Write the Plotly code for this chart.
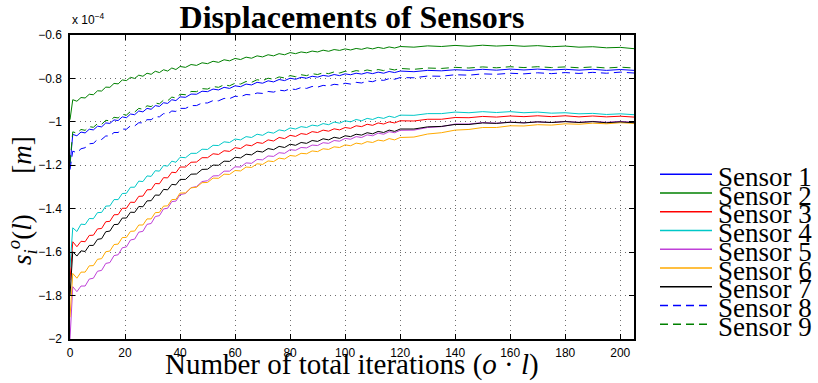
import plotly.graph_objects as go

# Iteration index (o * l) at which each displacement sample was recorded
ITERATIONS = [
    0, 1, 2.5, 4, 5.5, 7, 8.5, 10, 11.5, 13, 14.5, 16, 17.5, 19, 20.5, 22, 23.5, 25,
    26.5, 28, 29.5, 31, 32.5, 34, 35.5, 37, 38.5, 40,
    42, 44, 46, 48, 50, 52, 54, 56, 58, 60, 62, 64, 66, 68, 70, 72, 74, 76, 78, 80,
    82, 84, 86, 88, 90, 92, 94, 96, 98, 100, 102, 104, 106, 108, 110, 112, 114, 116, 118, 120,
    125, 130, 135, 140, 145, 150, 155, 160, 165, 170, 175, 180, 185, 190, 195, 200, 205,
]

# Sensor displacements, in units of 1e-4 m
SENSOR_1 = [
    -1.20, -1.058, -1.064, -1.047, -1.051, -1.034, -1.037, -1.020, -1.023, -1.005, -1.007, -0.991, -0.994, -0.977,
    -0.981, -0.964, -0.967, -0.950, -0.954, -0.938, -0.942, -0.925, -0.929, -0.912, -0.915, -0.898, -0.902, -0.885,
    -0.887, -0.872, -0.873, -0.859, -0.861, -0.849, -0.853, -0.841, -0.846, -0.834, -0.838, -0.826, -0.830, -0.818,
    -0.822, -0.811, -0.816, -0.805, -0.810, -0.799, -0.804, -0.795, -0.799, -0.790, -0.794, -0.786, -0.790, -0.782,
    -0.787, -0.779, -0.783, -0.776, -0.780, -0.773, -0.778, -0.771, -0.776, -0.768, -0.773, -0.766,
    -0.769, -0.763, -0.765, -0.760, -0.763, -0.758, -0.762, -0.757, -0.761, -0.757, -0.761, -0.758, -0.762, -0.758,
    -0.763, -0.759, -0.763,
]
SENSOR_2 = [
    -0.99, -0.898, -0.905, -0.888, -0.890, -0.873, -0.875, -0.857, -0.858, -0.840, -0.841, -0.823, -0.825, -0.807,
    -0.810, -0.795, -0.800, -0.785, -0.790, -0.776, -0.781, -0.767, -0.773, -0.760, -0.766, -0.752, -0.759, -0.745,
    -0.749, -0.736, -0.740, -0.728, -0.732, -0.721, -0.726, -0.714, -0.719, -0.708, -0.713, -0.702, -0.707, -0.696,
    -0.701, -0.691, -0.696, -0.686, -0.691, -0.681, -0.686, -0.678, -0.682, -0.674, -0.678, -0.670, -0.675, -0.667,
    -0.671, -0.664, -0.669, -0.662, -0.666, -0.659, -0.664, -0.657, -0.662, -0.655, -0.660, -0.653,
    -0.656, -0.650, -0.653, -0.648, -0.652, -0.647, -0.651, -0.648, -0.652, -0.649, -0.654, -0.651, -0.656, -0.654,
    -0.659, -0.657, -0.663,
]
SENSOR_3 = [
    -1.73, -1.552, -1.575, -1.550, -1.552, -1.523, -1.522, -1.493, -1.491, -1.460, -1.458, -1.428, -1.427, -1.398,
    -1.398, -1.370, -1.371, -1.343, -1.342, -1.313, -1.312, -1.284, -1.285, -1.257, -1.258, -1.232, -1.234, -1.208,
    -1.208, -1.186, -1.185, -1.165, -1.165, -1.147, -1.150, -1.133, -1.136, -1.119, -1.123, -1.106, -1.110, -1.095,
    -1.099, -1.083, -1.088, -1.072, -1.077, -1.062, -1.067, -1.054, -1.058, -1.045, -1.049, -1.038, -1.043, -1.032,
    -1.037, -1.026, -1.030, -1.018, -1.022, -1.011, -1.016, -1.005, -1.010, -1.000, -1.005, -0.995,
    -0.996, -0.988, -0.988, -0.980, -0.981, -0.975, -0.978, -0.973, -0.976, -0.972, -0.976, -0.972, -0.977, -0.973,
    -0.977, -0.974, -0.978,
]
SENSOR_4 = [
    -1.67, -1.488, -1.505, -1.471, -1.473, -1.445, -1.446, -1.418, -1.417, -1.388, -1.387, -1.358, -1.358, -1.330,
    -1.329, -1.301, -1.301, -1.273, -1.275, -1.249, -1.251, -1.225, -1.227, -1.201, -1.204, -1.181, -1.186, -1.163,
    -1.165, -1.145, -1.145, -1.126, -1.127, -1.108, -1.109, -1.092, -1.095, -1.079, -1.083, -1.068, -1.072, -1.057,
    -1.062, -1.047, -1.052, -1.037, -1.042, -1.028, -1.033, -1.022, -1.026, -1.015, -1.019, -1.008, -1.013, -1.001,
    -1.006, -0.995, -1.000, -0.989, -0.995, -0.984, -0.989, -0.979, -0.984, -0.974, -0.980, -0.969,
    -0.970, -0.962, -0.962, -0.955, -0.958, -0.953, -0.957, -0.953, -0.958, -0.955, -0.960, -0.958, -0.963, -0.961,
    -0.966, -0.963, -0.967,
]
SENSOR_5 = [
    -2.00, -1.759, -1.782, -1.756, -1.756, -1.724, -1.720, -1.688, -1.684, -1.652, -1.648, -1.616, -1.612, -1.580,
    -1.576, -1.544, -1.540, -1.508, -1.504, -1.472, -1.468, -1.436, -1.432, -1.401, -1.398, -1.367, -1.365, -1.335,
    -1.330, -1.303, -1.298, -1.275, -1.271, -1.249, -1.248, -1.227, -1.227, -1.207, -1.208, -1.189, -1.191, -1.173,
    -1.175, -1.157, -1.159, -1.142, -1.145, -1.128, -1.131, -1.118, -1.120, -1.107, -1.109, -1.096, -1.099, -1.086,
    -1.089, -1.076, -1.080, -1.068, -1.072, -1.060, -1.064, -1.052, -1.057, -1.045, -1.050, -1.039,
    -1.038, -1.026, -1.022, -1.010, -1.010, -1.003, -1.006, -1.001, -1.004, -1.000, -1.003, -0.998, -1.002, -0.998,
    -1.002, -0.998, -1.002,
]
SENSOR_6 = [
    -1.90, -1.698, -1.720, -1.692, -1.692, -1.663, -1.662, -1.633, -1.630, -1.598, -1.595, -1.565, -1.563, -1.533,
    -1.532, -1.504, -1.503, -1.475, -1.475, -1.447, -1.447, -1.418, -1.417, -1.388, -1.387, -1.358, -1.357, -1.328,
    -1.327, -1.304, -1.301, -1.280, -1.279, -1.259, -1.260, -1.241, -1.242, -1.224, -1.226, -1.208, -1.210, -1.193,
    -1.196, -1.180, -1.183, -1.167, -1.171, -1.155, -1.158, -1.145, -1.147, -1.134, -1.137, -1.124, -1.127, -1.115,
    -1.118, -1.106, -1.110, -1.098, -1.102, -1.091, -1.095, -1.084, -1.088, -1.077, -1.083, -1.072,
    -1.070, -1.056, -1.050, -1.038, -1.035, -1.026, -1.026, -1.018, -1.019, -1.013, -1.015, -1.009, -1.011, -1.006,
    -1.009, -1.004, -1.007,
]
SENSOR_7 = [
    -1.80, -1.598, -1.618, -1.594, -1.597, -1.569, -1.569, -1.541, -1.538, -1.506, -1.503, -1.473, -1.472, -1.443,
    -1.443, -1.416, -1.417, -1.390, -1.391, -1.364, -1.363, -1.337, -1.338, -1.311, -1.313, -1.288, -1.290, -1.265,
    -1.265, -1.241, -1.240, -1.219, -1.218, -1.199, -1.200, -1.181, -1.182, -1.163, -1.166, -1.149, -1.152, -1.135,
    -1.139, -1.123, -1.128, -1.113, -1.118, -1.103, -1.108, -1.095, -1.099, -1.086, -1.090, -1.078, -1.083, -1.071,
    -1.076, -1.064, -1.068, -1.057, -1.061, -1.050, -1.055, -1.044, -1.049, -1.038, -1.044, -1.033,
    -1.033, -1.023, -1.021, -1.012, -1.012, -1.005, -1.007, -1.002, -1.005, -1.000, -1.003, -0.999, -1.003, -0.999,
    -1.004, -1.000, -1.004,
]
SENSOR_8 = [
    -1.22, -1.135, -1.142, -1.124, -1.119, -1.101, -1.099, -1.081, -1.081, -1.065, -1.065, -1.049, -1.049, -1.033,
    -1.034, -1.018, -1.019, -1.004, -1.005, -0.990, -0.990, -0.976, -0.977, -0.962, -0.964, -0.950, -0.952, -0.938,
    -0.938, -0.925, -0.925, -0.913, -0.913, -0.902, -0.903, -0.892, -0.893, -0.882, -0.884, -0.874, -0.876, -0.867,
    -0.869, -0.860, -0.863, -0.854, -0.857, -0.848, -0.851, -0.842, -0.846, -0.837, -0.840, -0.832, -0.835, -0.827,
    -0.830, -0.822, -0.826, -0.818, -0.821, -0.812, -0.815, -0.806, -0.809, -0.801, -0.804, -0.796,
    -0.797, -0.789, -0.790, -0.783, -0.785, -0.779, -0.781, -0.776, -0.779, -0.774, -0.778, -0.773, -0.777, -0.772,
    -0.776, -0.771, -0.775,
]
SENSOR_9 = [
    -1.19, -1.046, -1.052, -1.035, -1.039, -1.022, -1.025, -1.008, -1.011, -0.993, -0.995, -0.979, -0.982, -0.965,
    -0.969, -0.952, -0.955, -0.938, -0.942, -0.926, -0.930, -0.913, -0.917, -0.900, -0.903, -0.886, -0.890, -0.873,
    -0.875, -0.860, -0.861, -0.847, -0.849, -0.837, -0.841, -0.829, -0.834, -0.822, -0.826, -0.814, -0.818, -0.806,
    -0.810, -0.799, -0.804, -0.793, -0.798, -0.787, -0.792, -0.783, -0.787, -0.778, -0.782, -0.774, -0.778, -0.770,
    -0.775, -0.767, -0.771, -0.764, -0.768, -0.761, -0.766, -0.759, -0.764, -0.756, -0.761, -0.754,
    -0.758, -0.752, -0.754, -0.749, -0.752, -0.747, -0.751, -0.746, -0.750, -0.746, -0.750, -0.747, -0.751, -0.747,
    -0.752, -0.748, -0.752,
]

SENSOR_NAMES = ["Sensor 1", "Sensor 2", "Sensor 3", "Sensor 4", "Sensor 5",
                "Sensor 6", "Sensor 7", "Sensor 8", "Sensor 9"]
X_TICKS = [0, 20, 40, 60, 80, 100, 120, 140, 160, 180, 200]
Y_TICKS = [-2.0, -1.8, -1.6, -1.4, -1.2, -1.0, -0.8, -0.6]
Y_TICK_TEXT = ["\u22122", "\u22121.8", "\u22121.6", "\u22121.4", "\u22121.2", "\u22121", "\u22120.8", "\u22120.6"]

series = [SENSOR_1, SENSOR_2, SENSOR_3, SENSOR_4, SENSOR_5,
          SENSOR_6, SENSOR_7, SENSOR_8, SENSOR_9]
colors = ["#0000ff", "#008000", "#ff0000", "#00c8c8", "#bf40d8",
          "#ffaa00", "#000000", "#0000ff", "#008000"]
dashes = ["solid"] * 7 + ["8px,5px", "8px,5px"]

SERIF = "Liberation Serif"
SANS = "Liberation Sans"

fig = go.Figure()
for name, ys, col, dsh in zip(SENSOR_NAMES, series, colors, dashes):
    fig.add_trace(go.Scatter(
        x=ITERATIONS, y=ys, name=name, mode="lines",
        line=dict(color=col, width=1, dash=dsh),
    ))

# plot-area geometry in pixels (used to place the hand-built legend and labels)
W, H = 818, 383
L, R, T, B = 70, 184, 35, 44
pw, ph = W - L - R, H - T - B


def px_to_paper_x(px):
    return (px - L) / pw


def px_to_paper_y(py):
    return (H - B - py) / ph


axis_common = dict(
    showline=True, linecolor="black", linewidth=1.5, mirror="ticks",
    ticks="inside", ticklen=5, tickwidth=1, tickcolor="black",
    showgrid=True, gridcolor="#6e6e6e", gridwidth=1, griddash="1px,4px",
    zeroline=False, tickfont=dict(family=SANS, size=12, color="black"),
)

fig.update_layout(
    width=W, height=H,
    margin=dict(l=L, r=R, t=T, b=B),
    paper_bgcolor="white", plot_bgcolor="white",
    showlegend=False,
    title=dict(text="<b>Displacements of Sensors</b>",
               font=dict(family=SERIF, size=32, color="black"),
               x=0.5, xref="paper", xanchor="center",
               y=1 - 17 / H, yref="container", yanchor="middle"),
    xaxis=dict(range=[0, 205], tickvals=X_TICKS, ticklabelstandoff=2, **axis_common),
    yaxis=dict(range=[-2, -0.6], tickvals=Y_TICKS, ticktext=Y_TICK_TEXT,
               ticklabelstandoff=4, **axis_common),
)

# exponent marker above the y axis
fig.add_annotation(text="x 10<sup>\u22124</sup>", xref="paper", yref="paper",
                   x=0.0, y=px_to_paper_y(19), xanchor="left", yanchor="middle",
                   showarrow=False, font=dict(family=SANS, size=12, color="black"))

# axis titles
fig.add_annotation(text="Number of total iterations (<i>o</i> \u00b7 <i>l</i>)",
                   xref="paper", yref="paper", x=px_to_paper_x(352), y=px_to_paper_y(364),
                   xanchor="center", yanchor="middle", showarrow=False,
                   font=dict(family=SERIF, size=29, color="black"))
fig.add_annotation(text="<i>s</i><sub><i>i</i></sub><sup><i>o</i></sup>(<i>l</i>)\u00a0\u00a0\u00a0\u00a0\u00a0\u00a0[<i>m</i>]",
                   xref="paper", yref="paper", x=px_to_paper_x(22), y=px_to_paper_y(201),
                   xanchor="center", yanchor="middle", textangle=-90, showarrow=False,
                   font=dict(family=SERIF, size=27, color="black"))

# legend drawn to the right of the axes
row0, row_step = 174.3, 18.75
for k, (name, col, dsh) in enumerate(zip(SENSOR_NAMES, colors, dashes)):
    yl = px_to_paper_y(row0 + k * row_step)
    fig.add_shape(type="line", xref="paper", yref="paper",
                  x0=px_to_paper_x(660), x1=px_to_paper_x(712), y0=yl, y1=yl,
                  line=dict(color=col, width=1.5, dash=dsh))
    fig.add_annotation(text=name, xref="paper", yref="paper",
                       x=px_to_paper_x(716), y=px_to_paper_y(row0 + k * row_step + 2.5),
                       xanchor="left", yanchor="middle", showarrow=False,
                       font=dict(family=SERIF, size=27, color="black"))

fig.write_html("out.html")
